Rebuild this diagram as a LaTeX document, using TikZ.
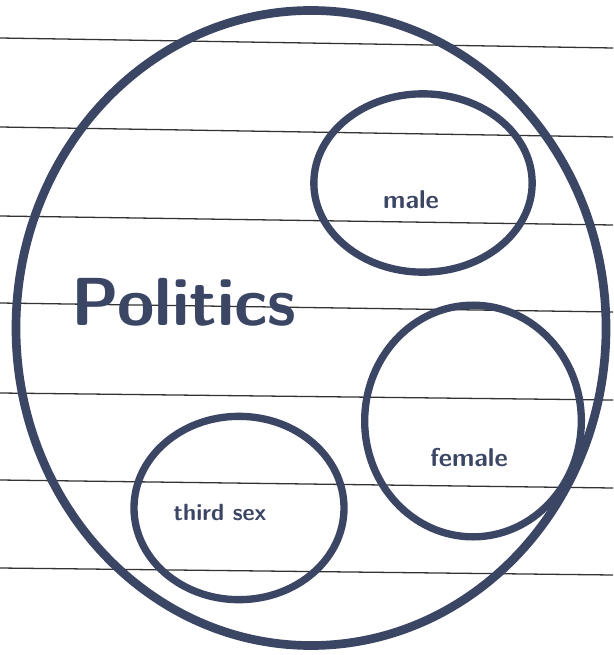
\documentclass[tikz,border=0pt]{standalone}
\usepackage{tikz}
\usepackage{xcolor}
\usetikzlibrary{shapes.geometric}
\definecolor{ink}{HTML}{3B4564}

\begin{document}
\begin{tikzpicture}[x=0.03cm, y=-0.03cm,
    ring/.style={ellipse, draw=ink, line width=2.2mm, inner sep=0pt},
    word/.style={text=ink, font=\sffamily\bfseries}]
  \useasboundingbox[fill=white] (0,0) rectangle (613,655);

  % ruled lines of the paper
  \foreach \ya/\yb in {38/48, 127/137, 216/225, 303/312, 393/400, 480/488, 568/575}
    \draw[black!80, line width=1.1pt] (0,\ya) -- (613,\yb);

  % outer set
  \node[ring, line width=2.6mm, minimum width=17.7cm, minimum height=19.05cm]
    (politics) at (311,328) {};
  \node[word, font=\sffamily\bfseries\fontsize{58}{58}\selectfont]
    (politicslabel) at (184,302) {Politics};

  % inner sets
  \node[ring, minimum width=6.55cm, minimum height=5.35cm] (male)   at (423,183) {};
  \node[ring, minimum width=6.5cm,  minimum height=6.95cm] (female) at (473,421) {};
  \node[ring, minimum width=6.3cm,  minimum height=5.5cm]  (third)  at (239,508) {};

  \node[word, font=\sffamily\bfseries\fontsize{22}{22}\selectfont] (malelabel)   at (411,200) {male};
  \node[word, font=\sffamily\bfseries\fontsize{22}{22}\selectfont] (femalelabel) at (469,458) {female};
  \node[word, font=\sffamily\bfseries\fontsize{20}{20}\selectfont] (thirdlabel)  at (220,512) {third sex};
\end{tikzpicture}
\end{document}
